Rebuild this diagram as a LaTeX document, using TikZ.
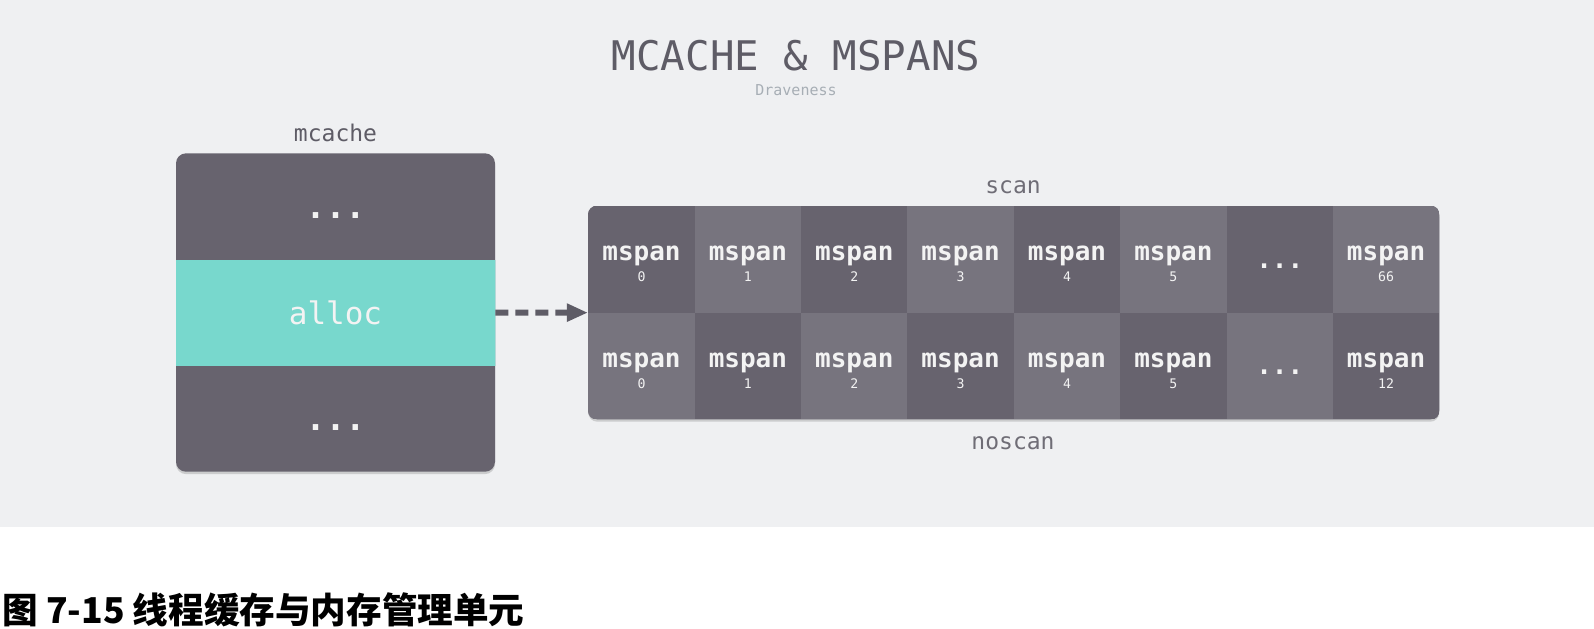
\documentclass[tikz,border=0pt]{standalone}
\usepackage{fontspec}
\usepackage{xcolor}
\setmonofont{DejaVu Sans Mono}
\newfontfamily\cjkfont{Noto Sans CJK SC}
\usetikzlibrary{arrows.meta,shadows}

\definecolor{pagebg}{HTML}{EFF0F2}
\definecolor{darkcell}{HTML}{67636E}
\definecolor{lightcell}{HTML}{77747E}
\definecolor{allocteal}{HTML}{78D8CD}
\definecolor{titlegrey}{HTML}{5E5C66}
\definecolor{labelgrey}{HTML}{6F6D76}
\definecolor{authorgrey}{HTML}{A7AEB5}
\definecolor{cellwhite}{HTML}{F3F3F3}

\begin{document}
\begin{tikzpicture}[x=0.5pt,y=-0.5pt,font=\ttfamily,
  softshadow/.style={drop shadow={shadow xshift=0pt,shadow yshift=-1.2pt,opacity=0.15,fill=black}},
  cellbox/.style={minimum width=53.2pt,minimum height=53.3pt,inner sep=0pt,outer sep=0pt},
  spanname/.style={anchor=base,text=cellwhite,font=\ttfamily\bfseries\fontsize{13}{15}\selectfont,inner sep=0pt},
  spannum/.style={anchor=base,text=cellwhite,font=\ttfamily\fontsize{6.6}{8}\selectfont,inner sep=0pt},
  sidelabel/.style={text=labelgrey,font=\ttfamily\fontsize{11.5}{13}\selectfont}]
\useasboundingbox (0,0) rectangle (1594,628);
\fill[white] (0,0) rectangle (1594,628);
\fill[pagebg] (0,0) rectangle (1594,527);

\node[text=titlegrey,font=\ttfamily\fontsize{20.4}{23}\selectfont] (title) at (796,56) {MCACHE \& MSPANS};
\node[text=authorgrey,font=\ttfamily\fontsize{7.5}{9}\selectfont] (author) at (796,90) {Draveness};

% mcache
\node[sidelabel,text=titlegrey] (cachelabel) at (335.5,133) {mcache};
\node[fill=darkcell,rounded corners=5pt,softshadow,minimum width=159.5pt,minimum height=159.2pt,inner sep=0pt] (mcache) at (335.5,312.5) {};
\begin{scope}
\path[clip,rounded corners=5pt] (mcache.north west) rectangle (mcache.south east);
\node[cellbox,fill=allocteal,minimum width=160pt,minimum height=53pt,text=cellwhite,font=\ttfamily\fontsize{15.5}{17}\selectfont] (alloc) at (335.5,313) {alloc};
\end{scope}
\node[anchor=base,text=cellwhite,font=\ttfamily\bfseries\fontsize{16.6}{18}\selectfont,inner sep=0pt] (topdots) at (335.5,218) {...};
\node[anchor=base,text=cellwhite,font=\ttfamily\bfseries\fontsize{16.6}{18}\selectfont,inner sep=0pt] (lowdots) at (335.5,430.5) {...};

% scan / noscan
\node[sidelabel] (scanlabel) at (1013,187) {scan};
\node[sidelabel] (noscanlabel) at (1013,443) {noscan};
\node[fill=darkcell,rounded corners=4.5pt,softshadow,minimum width=425.5pt,minimum height=106.65pt,inner sep=0pt] (grid) at (1013.8,312.65) {};
\newcommand{\spancell}[5]{\node[cellbox,fill=#4] (#1) at (#2,#3) {};
  \node[spanname] at ([yshift=-0.7pt]#1.center) {mspan};
  \node[spannum] at ([yshift=-11.2pt]#1.center) {#5};}
\newcommand{\dotcell}[4]{\node[cellbox,fill=#4] (#1) at (#2,#3) {};
  \node[spanname] at ([yshift=-4.4pt]#1.center) {...};}
\begin{scope}
\path[clip,rounded corners=4.5pt] (grid.north west) rectangle (grid.south east);
\spancell{s0}{641.5}{259.3}{darkcell}{0}   \spancell{s1}{747.9}{259.3}{lightcell}{1}
\spancell{s2}{854.3}{259.3}{darkcell}{2}   \spancell{s3}{960.6}{259.3}{lightcell}{3}
\spancell{s4}{1067.0}{259.3}{darkcell}{4}  \spancell{s5}{1173.4}{259.3}{lightcell}{5}
\dotcell{s6}{1279.8}{259.3}{darkcell}      \spancell{s7}{1386.1}{259.3}{lightcell}{66}
\spancell{n0}{641.5}{366}{lightcell}{0}    \spancell{n1}{747.9}{366}{darkcell}{1}
\spancell{n2}{854.3}{366}{lightcell}{2}    \spancell{n3}{960.6}{366}{darkcell}{3}
\spancell{n4}{1067.0}{366}{lightcell}{4}   \spancell{n5}{1173.4}{366}{darkcell}{5}
\dotcell{n6}{1279.8}{366}{lightcell}       \spancell{n7}{1386.1}{366}{darkcell}{12}
\end{scope}

\draw[titlegrey,line width=3pt,dash pattern=on 6.5pt off 3.5pt,-{Triangle[length=10.5pt,width=8.5pt]}] (mcache.east) -- (grid.west);

\node[anchor=west,inner sep=0pt,font=\cjkfont\bfseries\fontsize{17.8}{21}\selectfont] (caption) at (2,610) {图 7-15 线程缓存与内存管理单元};
\end{tikzpicture}
\end{document}
